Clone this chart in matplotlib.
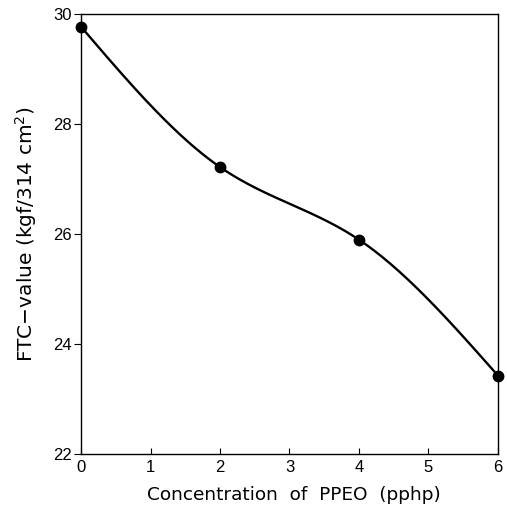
import numpy as np
import matplotlib
matplotlib.use("Agg")
import matplotlib.pyplot as plt

plt.rcParams["font.family"] = ["Liberation Sans", "DejaVu Sans"]
plt.rcParams["mathtext.fontset"] = "dejavusans"

# data
conc = [0, 2, 4, 6]
ftc = [29.77, 27.22, 25.9, 23.43]
x_ticks = [0, 1, 2, 3, 4, 5, 6]
y_ticks = [22, 24, 26, 28, 30]


def natural_spline(x, y, n=200):
    # natural cubic spline through the measured points, for the smooth line
    x = np.asarray(x, float)
    y = np.asarray(y, float)
    k = len(x)
    h = np.diff(x)
    A = np.zeros((k, k))
    b = np.zeros(k)
    A[0, 0] = A[-1, -1] = 1
    for i in range(1, k - 1):
        A[i, i - 1] = h[i - 1]
        A[i, i] = 2 * (h[i - 1] + h[i])
        A[i, i + 1] = h[i]
        b[i] = 6 * ((y[i + 1] - y[i]) / h[i] - (y[i] - y[i - 1]) / h[i - 1])
    m = np.linalg.solve(A, b)
    xs = np.linspace(x[0], x[-1], n)
    ys = np.empty_like(xs)
    for j, xv in enumerate(xs):
        i = min(np.searchsorted(x, xv, side="right") - 1, k - 2)
        t = xv - x[i]
        a = (m[i + 1] - m[i]) / (6 * h[i])
        bb = m[i] / 2
        c = (y[i + 1] - y[i]) / h[i] - h[i] * (2 * m[i] + m[i + 1]) / 6
        ys[j] = y[i] + c * t + bb * t**2 + a * t**3
    return xs, ys


fig = plt.figure(figsize=(5.07, 5.08), dpi=100)
ax = fig.add_axes([0.16, 0.106, 0.822, 0.866])

xs, ys = natural_spline(conc, ftc)
ax.plot(xs, ys, color="black", lw=1.7, zorder=2)
ax.plot(conc, ftc, "o", color="black", ms=7.5, zorder=3, clip_on=False)

ax.set_xlim(0, 6)
ax.set_ylim(22, 30)
ax.set_xticks(x_ticks)
ax.set_yticks(y_ticks)
ax.tick_params(axis="x", direction="in", length=4, width=0.8, labelsize=12, pad=4)
ax.tick_params(axis="y", direction="out", length=5, width=0.8, labelsize=12, pad=2)
for s in ax.spines.values():
    s.set_linewidth(1.0)

ax.set_xlabel("Concentration  of  PPEO  (pphp)", fontsize=13.3,
              family="DejaVu Sans", va="center")
ax.set_ylabel("FTC\u2212value (kgf/314 cm$^2$)", fontsize=14.5,
              family="DejaVu Sans", va="center")
ax.xaxis.set_label_coords(0.51, -0.093)
ax.yaxis.set_label_coords(-0.132, 0.5)

fig.savefig("out.png", dpi=100)
